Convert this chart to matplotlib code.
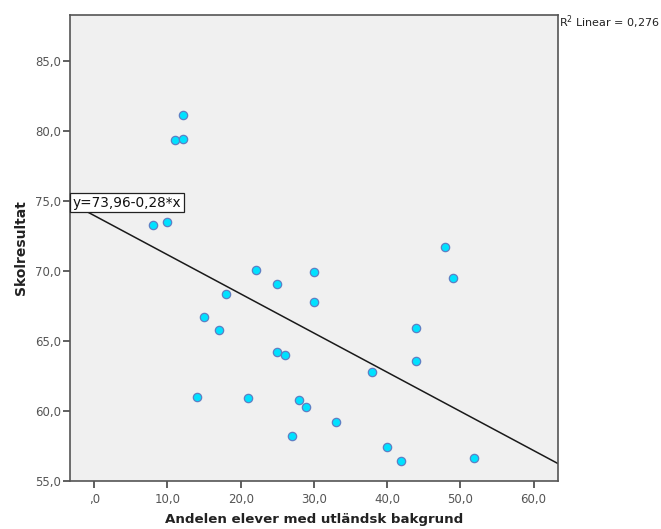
import matplotlib
matplotlib.use("Agg")
import matplotlib.pyplot as plt
import numpy as np

# Data
andel = [47.95, 48.96, 22.05, 30.0, 25.0, 18.03, 30.0, 15.03, 17.04, 43.95,
         25.0, 26.0, 43.95, 37.98, 14.03, 21.0, 27.96, 28.96, 32.98, 27.01,
         39.95, 41.94, 51.91, 12.08, 11.02, 12.08, 8.06, 9.97]
skolresultat = [71.70, 69.48, 70.07, 69.91, 69.09, 68.38, 67.78, 66.69, 65.78, 65.90,
                64.21, 63.99, 63.58, 62.78, 61.01, 60.89, 60.79, 60.29, 59.20, 58.20,
                57.39, 56.41, 56.60, 81.18, 79.37, 79.46, 73.29, 73.48]
intercept = 73.96
slope = -0.28
r2_text = "R$^2$ Linear = 0,276"
eq_text = "y=73,96-0,28*x"
xticks = [0, 10, 20, 30, 40, 50, 60]
xticklabels = [",0", "10,0", "20,0", "30,0", "40,0", "50,0", "60,0"]
yticks = [55, 60, 65, 70, 75, 80, 85]
yticklabels = ["55,0", "60,0", "65,0", "70,0", "75,0", "80,0", "85,0"]
xlabel = "Andelen elever med utländsk bakgrund"
ylabel = "Skolresultat"

plt.rcParams['font.family'] = ['DejaVu Sans']

fig = plt.figure(figsize=(6.61, 5.29), dpi=100)
ax = fig.add_axes([0.106, 0.0913, 0.7377, 0.8803])
ax.set_facecolor("#f0f0f0")

xmin, xmax = -3.3, 63.3
ax.set_xlim(xmin, xmax)
ax.set_ylim(55, 88.3)

xl = np.array([xmin, xmax])
ax.plot(xl, intercept + slope * xl, color="#1a1a1a", lw=1.1, zorder=2)

ax.scatter(andel, skolresultat, s=36, facecolor="#00e1ff", edgecolor="#5f7fc4",
           linewidth=0.9, zorder=3)

ax.text(xmin + 0.35, intercept + slope * xmin, eq_text, fontsize=9.8,
        ha="left", va="center", color="#111111", zorder=4,
        bbox=dict(boxstyle="square,pad=0.2", facecolor="white", edgecolor="#222222", lw=0.9))

ax.set_xticks(xticks)
ax.set_xticklabels(xticklabels)
ax.set_yticks(yticks)
ax.set_yticklabels(yticklabels)
ax.tick_params(direction="out", length=5, width=1.2, colors="#444444",
               labelsize=8.5, labelcolor="#555555")
ax.tick_params(axis="y", pad=1.5)
ax.tick_params(axis="x", pad=4)

for s in ax.spines.values():
    s.set_color("#555555")
    s.set_linewidth(1.2)

ax.set_xlabel(xlabel, fontsize=9.6, fontweight="bold", color="#222222", labelpad=5)
ax.set_ylabel(ylabel, fontsize=10, fontweight="bold", color="#222222", labelpad=5)

fig.text(0.845, 0.958, r2_text, fontsize=8, ha="left", va="center", color="#222222")

fig.savefig("out.png", dpi=100)
